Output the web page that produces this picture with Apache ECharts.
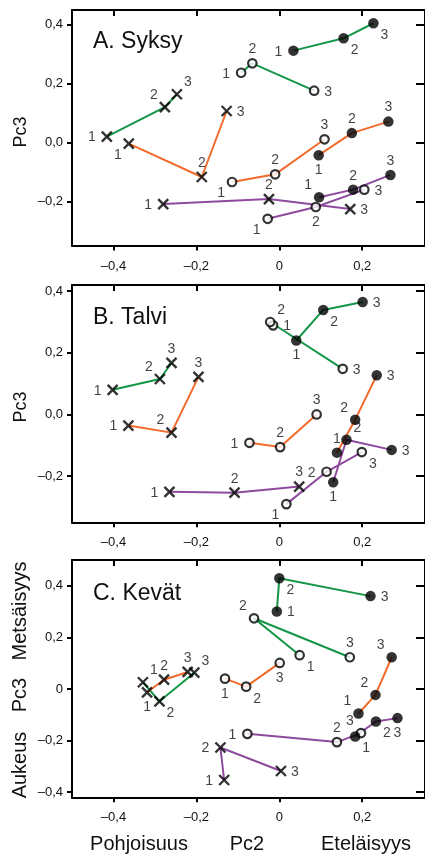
<!DOCTYPE html>
<html><head><meta charset="utf-8">
<script src="https://cdn.jsdelivr.net/npm/echarts@6/dist/echarts.min.js"></script>
<style>html,body{margin:0;padding:0;background:#fff;}#c{width:425px;height:854px;}</style>
</head><body><div id="c"></div>
<script>
// ---------- tick values & labels ----------
const xTicks = [-0.4, -0.2, 0, 0.2];
const xTickLabels = ['–0,4', '–0,2', '0', '0,2'];
const yTicksAB = [-0.2, 0, 0.2, 0.4];
const yTickLabelsAB = ['–0,2', '0,0', '0,2', '0,4'];
const yTicksC = [-0.4, -0.2, 0, 0.2, 0.4];
const yTickLabelsC = ['–0,4', '–0,2', '0', '0,2', '0,4'];
const pointLabels = ['1', '2', '3'];

// ---------- A. Syksy ----------
const syksyCrossGreen   = [[-0.416, 0.020], [-0.276, 0.120], [-0.247, 0.164]];
const syksyCrossOrange  = [[-0.363, -0.004], [-0.187, -0.117], [-0.127, 0.107]];
const syksyCrossPurple  = [[-0.280, -0.209], [-0.025, -0.192], [0.171, -0.226]];
const syksyOpenGreen    = [[-0.092, 0.237], [-0.065, 0.269], [0.084, 0.176]];
const syksyOpenOrange   = [[-0.114, -0.134], [-0.010, -0.108], [0.109, 0.011]];
const syksyOpenPurple   = [[-0.028, -0.259], [0.088, -0.219], [0.205, -0.160]];
const syksyFilledGreen  = [[0.034, 0.312], [0.155, 0.354], [0.227, 0.405]];
const syksyFilledOrange = [[0.095, -0.043], [0.175, 0.032], [0.263, 0.071]];
const syksyFilledPurple = [[0.096, -0.186], [0.178, -0.160], [0.268, -0.110]];

// ---------- B. Talvi ----------
const talviCrossGreen   = [[-0.402, 0.080], [-0.288, 0.115], [-0.260, 0.167]];
const talviCrossOrange  = [[-0.364, -0.036], [-0.260, -0.059], [-0.195, 0.122]];
const talviCrossPurple  = [[-0.265, -0.251], [-0.108, -0.254], [0.048, -0.234]];
const talviOpenGreen    = [[-0.015, 0.289], [-0.022, 0.300], [0.153, 0.148]];
const talviOpenOrange   = [[-0.072, -0.092], [0.002, -0.106], [0.090, 0.000]];
const talviOpenPurple   = [[0.017, -0.291], [0.114, -0.186], [0.199, -0.122]];
const talviFilledGreen  = [[0.041, 0.240], [0.106, 0.339], [0.201, 0.365]];
const talviFilledOrange = [[0.139, -0.124], [0.183, -0.017], [0.235, 0.127]];
const talviFilledPurple = [[0.130, -0.220], [0.162, -0.082], [0.271, -0.115]];

// ---------- C. Kevät ----------
const kevatCrossGreen   = [[-0.329, 0.026], [-0.289, -0.048], [-0.205, 0.063]];
const kevatCrossOrange  = [[-0.319, -0.013], [-0.278, 0.036], [-0.221, 0.066]];
const kevatCrossPurple  = [[-0.133, -0.353], [-0.142, -0.227], [0.004, -0.318]];
const kevatOpenGreen    = [[0.049, 0.131], [-0.061, 0.274], [0.170, 0.123]];
const kevatOpenOrange   = [[-0.131, 0.040], [-0.080, 0.009], [0.001, 0.101]];
const kevatOpenPurple   = [[-0.077, -0.174], [0.139, -0.206], [0.197, -0.171]];
const kevatFilledGreen  = [[-0.006, 0.300], [0.000, 0.429], [0.220, 0.360]];
const kevatFilledOrange = [[0.191, -0.095], [0.232, -0.023], [0.271, 0.123]];
const kevatFilledPurple = [[0.183, -0.184], [0.233, -0.126], [0.285, -0.113]];

// ---------- label placement codes (compass direction of the number relative to its marker) ----------
const syksyLbl = {
  crossGreen: ['w','nw','ne'], crossOrange: ['sw','n','e'], crossPurple: ['w','n','e'],
  openGreen: ['w','n','e'], openOrange: ['sw','n','n'], openPurple: ['sw','s','e'],
  filledGreen: ['w','se','se'], filledOrange: ['s','n','n'], filledPurple: ['nw','n','n']
};
const talviLbl = {
  crossGreen: ['w','nw','n'], crossOrange: ['w','nw','n'], crossPurple: ['w','n','n'],
  openGreen: ['e','ne','e'], openOrange: ['w','n','n'], openPurple: ['sw','w','se'],
  filledGreen: ['s','se','e'], filledOrange: ['n','nw','e'], filledPurple: ['s','ne','e']
};
const kevatLbl = {
  crossGreen: ['ne','se','ne'], crossOrange: ['s','n','n'], crossPurple: ['w','w','e'],
  openGreen: ['se','nw','n'], openOrange: ['s','se','s'], openPurple: ['w','n','nw'],
  filledGreen: ['e','se','e'], filledOrange: ['nw','nw','nw'], filledPurple: ['se','se','s']
};

// ---------- styles ----------
const FONT = '"Liberation Sans", Arial, Helvetica, sans-serif';
const GREEN = '#159647', ORANGE = '#f26a2c', PURPLE = '#8e4b9e';
const DIR = { n:[0,-14], s:[0,15], e:[14,1], w:[-15,1], ne:[11,-12], nw:[-11,-12], se:[11,12], sw:[-11,11] };
const MARK = {
  cross:  { symbol: 'path://M0,0L10,10M10,0L0,10', symbolSize: 10, itemStyle: { color: 'none', borderColor: '#000', borderWidth: 2.4 } },
  open:   { symbol: 'circle', symbolSize: 8.5, itemStyle: { color: '#fff', borderColor: '#000', borderWidth: 2.2 } },
  filled: { symbol: 'circle', symbolSize: 10.5, itemStyle: { color: '#000', borderWidth: 0 } }
};

const panels = [
  { name: 'A. Syksy', ymin: -0.35, ymax: 0.45, top: 10, height: 235.6, yTicks: yTicksAB, yLabels: yTickLabelsAB, titleY: 42, lbl: syksyLbl,
    sets: { crossGreen: syksyCrossGreen, crossOrange: syksyCrossOrange, crossPurple: syksyCrossPurple,
            openGreen: syksyOpenGreen, openOrange: syksyOpenOrange, openPurple: syksyOpenPurple,
            filledGreen: syksyFilledGreen, filledOrange: syksyFilledOrange, filledPurple: syksyFilledPurple } },
  { name: 'B. Talvi', ymin: -0.35, ymax: 0.42, top: 285, height: 237.3, yTicks: yTicksAB, yLabels: yTickLabelsAB, titleY: 318, lbl: talviLbl,
    sets: { crossGreen: talviCrossGreen, crossOrange: talviCrossOrange, crossPurple: talviCrossPurple,
            openGreen: talviOpenGreen, openOrange: talviOpenOrange, openPurple: talviOpenPurple,
            filledGreen: talviFilledGreen, filledOrange: talviFilledOrange, filledPurple: talviFilledPurple } },
  { name: 'C. Kevät', ymin: -0.42, ymax: 0.50, top: 560, height: 237.3, yTicks: yTicksC, yLabels: yTickLabelsC, titleY: 594, lbl: kevatLbl,
    sets: { crossGreen: kevatCrossGreen, crossOrange: kevatCrossOrange, crossPurple: kevatCrossPurple,
            openGreen: kevatOpenGreen, openOrange: kevatOpenOrange, openPurple: kevatOpenPurple,
            filledGreen: kevatFilledGreen, filledOrange: kevatFilledOrange, filledPurple: kevatFilledPurple } }
];

function fmt(ticks, labels) {
  return function (v) {
    for (let i = 0; i < ticks.length; i++) if (Math.abs(ticks[i] - v) < 1e-9) return labels[i];
    return '';
  };
}

const XMIN = -0.5, XMAX = 0.3514;
const grid = [], xAxis = [], yAxis = [], series = [], graphic = [];
const axisLine = { show: true, onZero: false, lineStyle: { color: '#000', width: 2 } };

panels.forEach((p, i) => {
  grid.push({ left: 72, top: p.top, width: 357, height: p.height, containLabel: false });
  xAxis.push({
    gridIndex: i, type: 'value', min: XMIN, max: XMAX, position: 'bottom',
    axisLine: axisLine,
    axisTick: { show: true, customValues: xTicks, inside: false, length: 5, lineStyle: { color: '#000', width: 2 } },
    axisLabel: { show: true, customValues: xTicks, formatter: fmt(xTicks, xTickLabels), margin: 14, fontSize: 13, color: '#111', fontFamily: FONT },
    splitLine: { show: false }
  });
  xAxis.push({
    gridIndex: i, type: 'value', min: XMIN, max: XMAX, position: 'top',
    axisLine: axisLine,
    axisTick: { show: true, customValues: xTicks, inside: true, length: 6, lineStyle: { color: '#000', width: 2 } },
    axisLabel: { show: false },
    splitLine: { show: false }
  });
  yAxis.push({
    gridIndex: i, type: 'value', min: p.ymin, max: p.ymax, position: 'left',
    axisLine: axisLine,
    axisTick: { show: true, customValues: p.yTicks, inside: false, length: 5, lineStyle: { color: '#000', width: 2 } },
    axisLabel: { show: true, customValues: p.yTicks, formatter: fmt(p.yTicks, p.yLabels), margin: 9, fontSize: 13, color: '#111', fontFamily: FONT },
    splitLine: { show: false }
  });
  yAxis.push({
    gridIndex: i, type: 'value', min: p.ymin, max: p.ymax, position: 'right',
    axisLine: axisLine,
    axisTick: { show: true, customValues: p.yTicks, inside: true, length: 9, lineStyle: { color: '#000', width: 2 } },
    axisLabel: { show: false },
    splitLine: { show: false }
  });

  Object.keys(p.sets).forEach(key => {
    const data = p.sets[key];
    const marker = key.startsWith('cross') ? 'cross' : key.startsWith('open') ? 'open' : 'filled';
    const color = key.endsWith('Green') ? GREEN : key.endsWith('Orange') ? ORANGE : PURPLE;
    const codes = p.lbl[key];
    series.push({
      type: 'line', xAxisIndex: 2 * i, yAxisIndex: 2 * i, data: data,
      showSymbol: false, symbol: 'none', lineStyle: { color: color, width: 2 },
      z: 2, silent: true, animation: false
    });
    series.push({
      type: 'scatter', xAxisIndex: 2 * i, yAxisIndex: 2 * i,
      data: data.map((v, k) => ({ value: v, label: { offset: DIR[codes[k]] } })),
      symbol: MARK[marker].symbol, symbolSize: MARK[marker].symbolSize, itemStyle: MARK[marker].itemStyle,
      label: { show: true, position: 'inside', formatter: q => pointLabels[q.dataIndex], fontSize: 14,
               color: '#111', fontFamily: FONT, textBorderWidth: 0 },
      z: 3, silent: true, animation: false
    });
  });

  graphic.push({ type: 'text', x: 93, y: p.titleY, silent: true,
    style: { text: p.name, font: '23px ' + FONT, fill: '#111', textAlign: 'left', textVerticalAlign: 'middle' } });
});

function vtext(t, x, y, size) {
  return { type: 'text', x: x, y: y, rotation: Math.PI / 2, silent: true,
    style: { text: t, font: size + 'px ' + FONT, fill: '#111', textAlign: 'center', textVerticalAlign: 'middle' } };
}
function htext(t, x, y, size) {
  return { type: 'text', x: x, y: y, silent: true,
    style: { text: t, font: size + 'px ' + FONT, fill: '#111', textAlign: 'center', textVerticalAlign: 'middle' } };
}
graphic.push(vtext('Pc3', 21, 132, 18));
graphic.push(vtext('Pc3', 21, 407, 18));
graphic.push(vtext('Metsäisyys', 20, 611, 20));
graphic.push(vtext('Pc3', 20, 695, 20));
graphic.push(vtext('Aukeus', 20, 765, 20));
graphic.push(htext('Pohjoisuus', 139, 844, 20));
graphic.push(htext('Pc2', 247, 844, 20));
graphic.push(htext('Eteläisyys', 366, 844, 20));

const chart = echarts.init(document.getElementById('c'), null, { renderer: 'canvas' });
chart.setOption({ animation: false, backgroundColor: '#fff', grid, xAxis, yAxis, series, graphic });
</script>
</body></html>
